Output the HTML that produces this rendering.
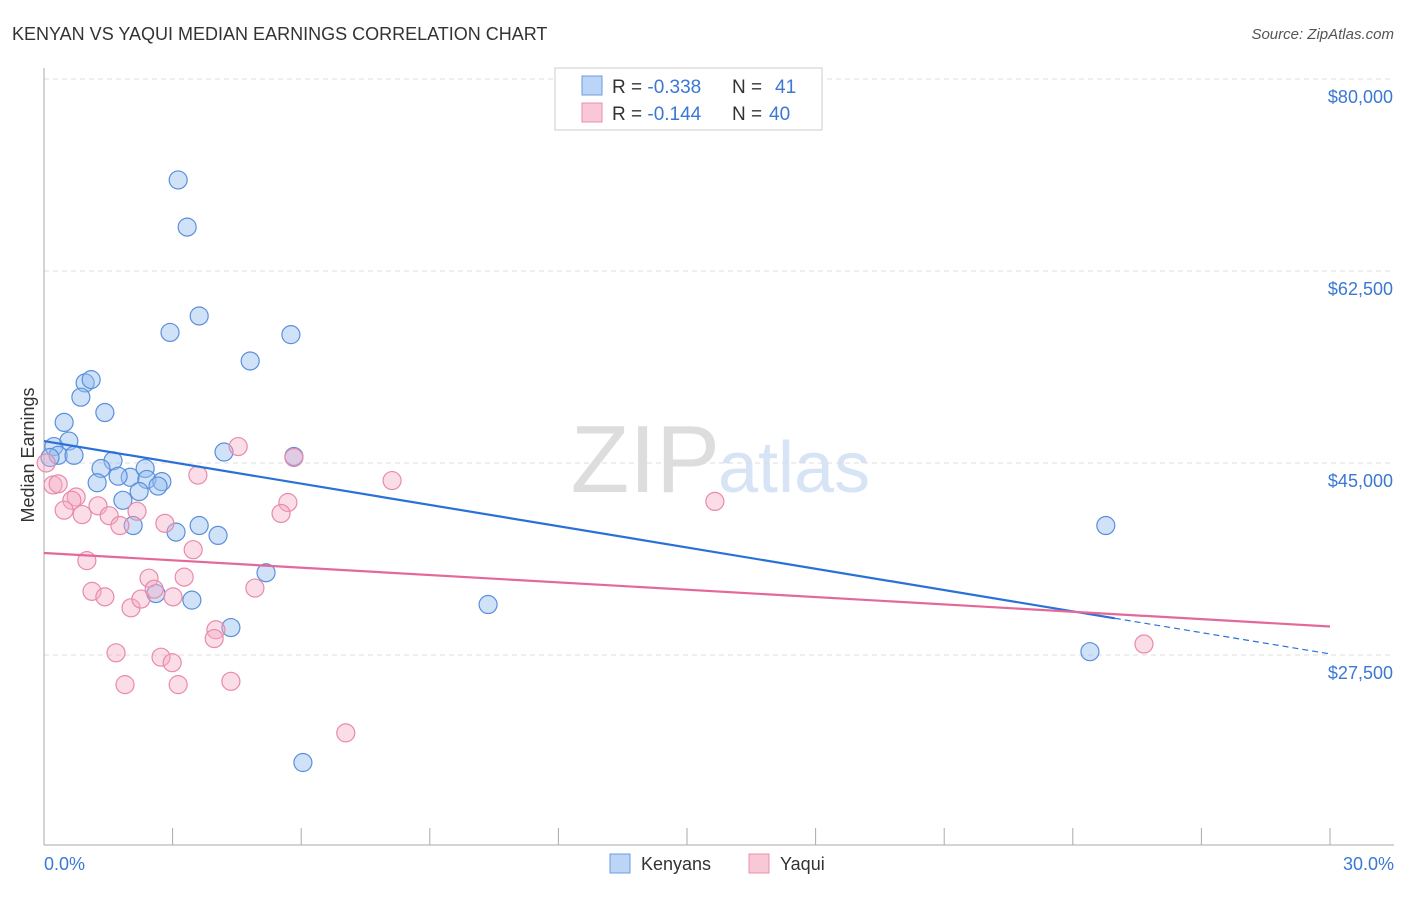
<!DOCTYPE html>
<html><head><meta charset="utf-8"><style>
body{margin:0;background:#fff;font-family:"Liberation Sans",sans-serif;}
svg text{font-family:"Liberation Sans",sans-serif;}
</style></head><body>
<svg id="chart" width="1406" height="892">
<text x="12" y="40" font-size="18" fill="#333">KENYAN VS YAQUI MEDIAN EARNINGS CORRELATION CHART</text>
<text x="1394" y="39" font-size="15" fill="#555" font-style="italic" text-anchor="end">Source: ZipAtlas.com</text>
<text x="720" y="492" font-size="96" fill="#ddd" text-anchor="end" font-family="Liberation Serif">ZIP</text>
<text x="718" y="492" font-size="72" fill="#d6e4f5">atlas</text>
<g id="grid"></g>
<g id="axes"></g>
<g id="pts"></g>
<g id="trend"></g>
<text x="34" y="455" font-size="18" fill="#333" text-anchor="middle" transform="rotate(-90 34 455)">Median Earnings</text>
<text x="44" y="870" font-size="18" fill="#3a78d4">0.0%</text>
<text x="1394" y="870" font-size="18" fill="#3a78d4" text-anchor="end">30.0%</text>
<g>
<rect x="555" y="68" width="267" height="62" fill="#fff" stroke="#ccc"/>
<rect x="582" y="76" width="20" height="19" fill="#bcd4f5" stroke="#6b9be0"/>
<rect x="582" y="103" width="20" height="19" fill="#f9c8d6" stroke="#ec8fac"/>
<text x="612" y="93" font-size="19" fill="#333">R = <tspan fill="#3a78d4">-0.338</tspan><tspan x="732">N = </tspan><tspan fill="#3a78d4" x="775">41</tspan></text>
<text x="612" y="120" font-size="19" fill="#333">R = <tspan fill="#3a78d4">-0.144</tspan><tspan x="732">N = </tspan><tspan fill="#3a78d4" x="769">40</tspan></text>
</g>
<g>
<rect x="610" y="854" width="20" height="19" fill="#bcd4f5" stroke="#6b9be0"/>
<text x="641" y="870" font-size="18" fill="#333">Kenyans</text>
<rect x="749" y="854" width="20" height="19" fill="#f9c8d6" stroke="#ec8fac"/>
<text x="780" y="870" font-size="18" fill="#333">Yaqui</text>
</g>
</svg>
<script>
const yTicks=[80000,62500,45000,27500];
const yTickLabels=["$80,000","$62,500","$45,000","$27,500"];
const xTicks=[0,3,6,9,12,15,18,21,24,27,30];
const kenX=[3.13,3.34,2.94,3.62,5.76,4.81,0.96,1.10,0.86,1.42,0.47,0.58,0.23,0.33,0.70,0.14,1.61,1.33,1.24,2.01,1.73,2.36,2.40,2.75,2.66,2.22,1.84,4.20,5.83,2.08,3.08,3.62,4.06,5.18,2.61,3.45,4.36,10.36,24.77,24.40,6.04];
const kenY=[70800,66500,56900,58400,56700,54300,52300,52600,51000,49600,48700,47000,46500,45700,45700,45500,45200,44500,43200,43700,43800,44500,43500,43300,42900,42400,41600,46000,45600,39300,38700,39300,38400,35000,33100,32500,30000,32100,39300,27800,17700];
const yaqX=[0.05,0.21,0.33,0.75,0.65,0.47,0.89,1.26,1.52,1.77,2.17,2.82,3.48,3.59,4.53,5.69,5.53,5.83,1.00,1.12,1.42,2.03,2.26,2.45,2.57,3.01,3.27,4.92,4.01,3.97,1.68,2.73,2.99,1.89,3.13,4.36,8.12,15.65,25.66,7.04];
const yaqY=[45000,43000,43100,41900,41600,40700,40300,41100,40200,39300,40600,39500,37100,43900,46500,41400,40400,45500,36100,33300,32800,31800,32600,34500,33500,32800,34600,33600,29800,29000,27700,27300,26800,24800,24800,25100,43400,41500,28500,20400];
const kenTrend=[47000,27600];
const kenSolidEnd=24.98;
const yaqTrend=[36800,30100];
const X=v=>44+v*(1330-44)/30;
const Y=v=>79+(80000-v)*192/17500;
const NS="http://www.w3.org/2000/svg";
function mk(tag,attrs,parent){const e=document.createElementNS(NS,tag);for(const k in attrs)e.setAttribute(k,attrs[k]);document.getElementById(parent).appendChild(e);return e;}
yTicks.forEach((t,i)=>{
 const l=mk('line',{x1:44,x2:1394,y1:Y(t),y2:Y(t),stroke:'#ddd','stroke-dasharray':'5,4'},'grid');
 
 
 const tx=mk('text',{x:1393,y:Y(t)+24,'font-size':18,fill:'#3a78d4','text-anchor':'end'},'grid');
 tx.textContent=yTickLabels[i];
 
 
});
const ya=mk('line',{x1:44,x2:44,y1:68,y2:845,stroke:'#aaa'},'axes');


const xa=mk('line',{x1:44,x2:1394,y1:845,y2:845,stroke:'#aaa'},'axes');


xTicks.forEach(t=>{
 const l=mk('line',{x1:X(t),x2:X(t),y1:828,y2:845,stroke:'#aaa'},'axes');
 
 
});
kenX.forEach((x,i)=>{
 const c=mk('circle',{cx:X(x),cy:Y(kenY[i]),r:9,fill:'rgba(150,190,240,0.45)',stroke:'#5b8fdc','stroke-width':1.2},'pts');
 
 
});
yaqX.forEach((x,i)=>{
 const c=mk('circle',{cx:X(x),cy:Y(yaqY[i]),r:9,fill:'rgba(245,170,195,0.4)',stroke:'#e98aaa','stroke-width':1.2},'pts');
 
 
});
const kAt=x=>kenTrend[0]+(kenTrend[1]-kenTrend[0])*x/30;
const k1=mk('line',{x1:X(0),y1:Y(kAt(0)),x2:X(kenSolidEnd),y2:Y(kAt(kenSolidEnd)),stroke:'#2a70d8','stroke-width':2.2},'trend');


const k2=mk('line',{x1:X(kenSolidEnd),y1:Y(kAt(kenSolidEnd)),x2:X(30),y2:Y(kAt(30)),stroke:'#2a70d8','stroke-width':1.2,'stroke-dasharray':'6,4'},'trend');


const p1=mk('line',{x1:X(0),y1:Y(yaqTrend[0]),x2:X(30),y2:Y(yaqTrend[1]),stroke:'#e4689a','stroke-width':2.2},'trend');


</script>
</body></html>
